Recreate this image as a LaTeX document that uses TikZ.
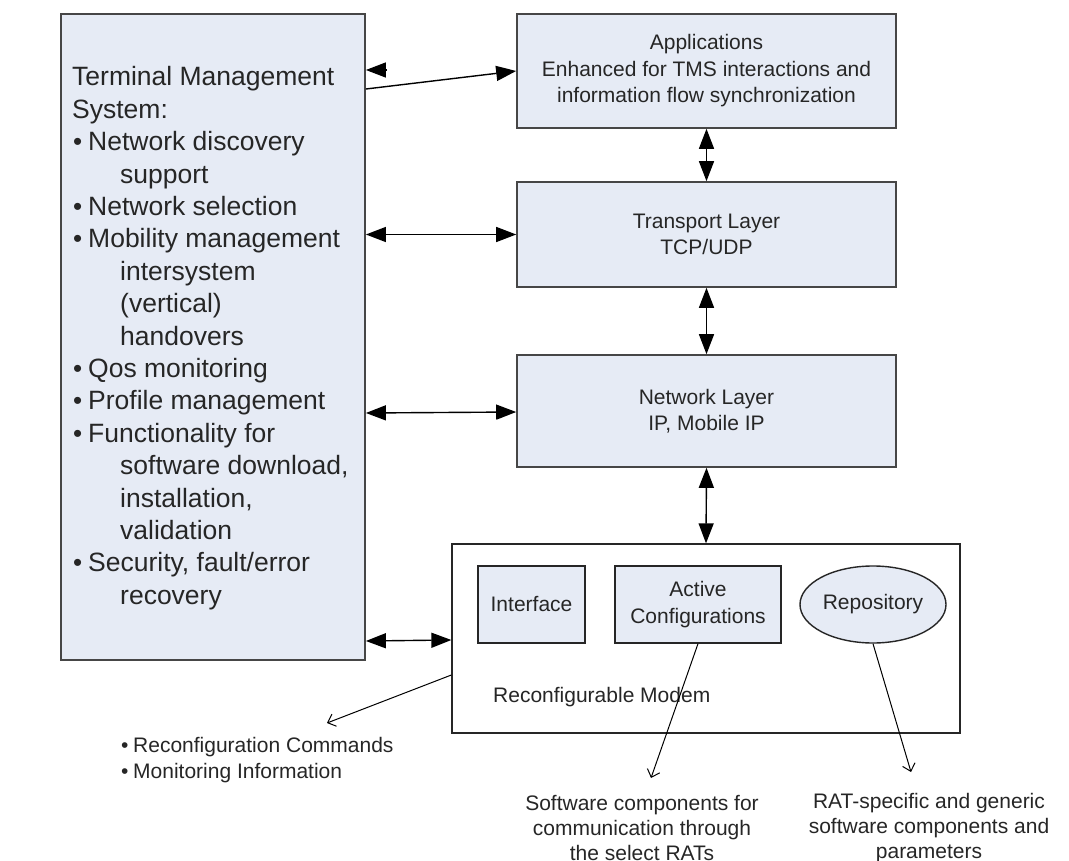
\documentclass[tikz,border=0pt]{standalone}
\usepackage{fontspec}
\setmainfont{Liberation Sans}
\usetikzlibrary{arrows.meta,shapes.geometric}
\definecolor{boxfill}{RGB}{230,235,245}
\definecolor{ink}{RGB}{38,38,38}
\definecolor{edge}{RGB}{70,70,70}
% list bullets for the management box and the command list
\newcommand{\tmsbul}{\makebox[16pt][l]{\kern1pt\fontsize{26}{26}\selectfont •}}
\newcommand{\tmsind}{\hspace*{48pt}}
\newcommand{\cmdbul}{\makebox[12pt][l]{\fontsize{21}{21}\selectfont •}}
\begin{document}
\begin{tikzpicture}[x=1pt,y=-1pt,
  layerbox/.style={draw=edge, line width=1.6pt, fill=boxfill, inner sep=0pt,
    text=ink, font=\fontsize{21}{26.5}\selectfont, align=center},
  plainbox/.style={draw=black!85, line width=1.3pt, fill=white, inner sep=0pt},
  label/.style={text=ink, inner sep=0pt, font=\fontsize{21}{25}\selectfont, align=center},
  arr/.style={line width=1.4pt, -{Triangle[length=20pt,width=15pt]}},
  darr/.style={line width=1.4pt, {Triangle[length=20pt,width=15pt]}-{Triangle[length=20pt,width=15pt]}},
  openarr/.style={line width=1pt, -{Straight Barb[length=7pt,width=13pt]}}]
\useasboundingbox (0,0) rectangle (1069,861);

% Terminal Management System
\node[draw=edge, line width=1.8pt, fill=boxfill, minimum width=304pt, minimum height=646pt,
      inner sep=0pt] (tms) at (213,337) {};
\node[anchor=base west, inner sep=0pt, text=ink] (tmstext) at (72,86)
  {\fontsize{26.5}{32.4}\selectfont
   \begin{tabular}[t]{@{}l@{}}
   Terminal Management\\
   System:\\
   \tmsbul Network discovery\\
   \tmsind support\\
   \tmsbul Network selection\\
   \tmsbul Mobility management\\
   \tmsind intersystem\\
   \tmsind (vertical)\\
   \tmsind handovers\\
   \tmsbul Qos monitoring\\
   \tmsbul Profile management\\
   \tmsbul Functionality for\\
   \tmsind software download,\\
   \tmsind installation,\\
   \tmsind validation\\
   \tmsbul Security, fault/error\\
   \tmsind recovery
   \end{tabular}};

% protocol stack
\node[layerbox, minimum width=379pt, minimum height=114pt] (app) at (706.5,71)
  {Applications\\Enhanced for TMS interactions and\\information flow synchronization};
\node[layerbox, minimum width=379pt, minimum height=105pt] (trans) at (706.5,234.5)
  {Transport Layer\\TCP/UDP};
\node[layerbox, minimum width=379pt, minimum height=112pt] (net) at (706.5,411)
  {Network Layer\\IP, Mobile IP};

% reconfigurable modem
\node[plainbox, minimum width=508pt, minimum height=189pt] (modem) at (706,638.5) {};
\node[layerbox, line width=1.4pt, draw=black!85, minimum width=107pt, minimum height=77pt] (iface) at (531.5,604.5) {Interface};
\node[layerbox, line width=1.4pt, draw=black!85, minimum width=166pt, minimum height=77pt] (active) at (698,604.5) {Active\\Configurations};
\node[layerbox, ellipse, line width=1.4pt, draw=black!85, minimum width=146pt, minimum height=77pt] (repo) at (873,604.5) {Repository};
\node[label, anchor=base west] (modemlbl) at (493,702) {Reconfigurable Modem};

% output descriptions
\node[label, anchor=base west] (cmds) at (121,752)
  {\fontsize{21}{26.5}\selectfont
   \begin{tabular}[t]{@{}l@{}}
   \cmdbul Reconfiguration Commands\\
   \cmdbul Monitoring Information
   \end{tabular}};
\node[label] (swcomp) at (642,828)
  {Software components for\\communication through\\the select RATs};
\node[label] (ratcomp) at (929,828)
  {RAT-specific and generic\\software components and\\parameters};

% connectors between the management system and the stack
\coordinate (stub) at (387,70);
\draw[arr] (stub) -- (stub -| tms.east);
\draw[arr] (tms.east |- 0,89) -- (app.west);
\draw[darr] (tms.east |- trans.west) -- (trans.west);
\draw[darr] (tms.east |- 0,413) -- (net.west |- 0,412);
\draw[darr] (tms.east |- 0,641) -- (modem.west |- 0,640);

% connectors along the stack
\draw[darr] (app.south) -- (trans.north);
\draw[darr] (trans.south) -- (net.north);
\draw[darr] (net.south) -- (modem.north);

% thin output arrows
\coordinate (cmdtip) at (327,723);
\coordinate (swtip) at (651,778);
\coordinate (rattip) at (911,772);
\draw[openarr] (modem.west |- 0,675) -- (cmdtip);
\draw[openarr] (active.south) -- (swtip);
\draw[openarr] (repo.south) -- (rattip);
\end{tikzpicture}
\end{document}
